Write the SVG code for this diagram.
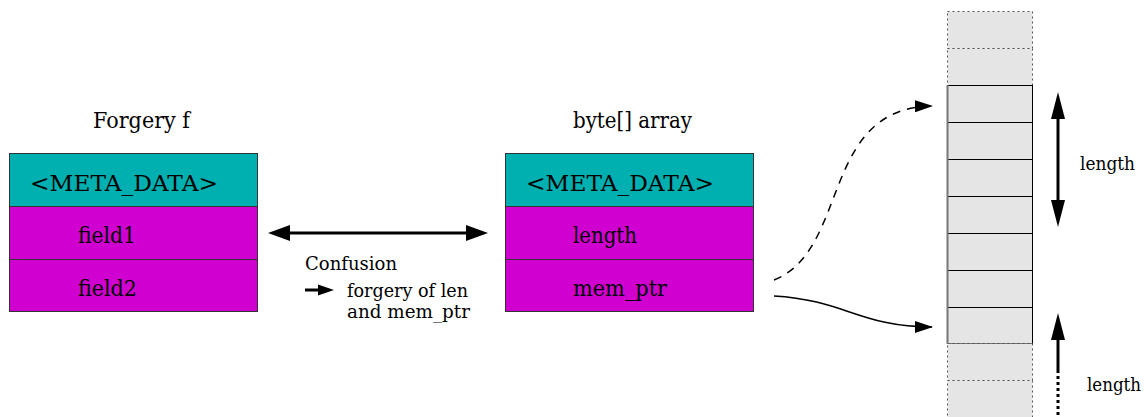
<svg xmlns="http://www.w3.org/2000/svg" width="1144" height="417" viewBox="0 0 1144 417">
<style>
.t{fill:#000;font-family:"DejaVu Serif","Liberation Serif",serif}
.big{font-size:22px}
.sm{font-size:18px}
.meta{fill:#00B0B0;stroke:#333;stroke-width:1}
.fld{fill:#D000D0;stroke:#333;stroke-width:1}
.cell{fill:#E5E5E5;stroke:#000;stroke-width:1}
.dcell{fill:#E5E5E5;stroke:#555;stroke-width:1;stroke-dasharray:2 3}
.ln{stroke:#000;fill:none}
</style>
<defs>
<marker id="ah" markerWidth="18" markerHeight="12" refX="17" refY="6" orient="auto" markerUnits="userSpaceOnUse">
<path d="M0,0 L18,6 L0,12 Z" fill="#000"/>
</marker>
</defs>
<rect width="1144" height="417" fill="#fff"/>
<g id="forgery">
<text class="t big" x="93" y="128" textLength="97" lengthAdjust="spacingAndGlyphs">Forgery f</text>
<rect class="meta" x="9.5" y="153.5" width="248" height="53"/>
<rect class="fld" x="9.5" y="206.5" width="248" height="53"/>
<rect class="fld" x="9.5" y="259.5" width="248" height="52"/>
<text class="t big" x="30" y="191" textLength="188" lengthAdjust="spacingAndGlyphs">&lt;META_DATA&gt;</text>
<text class="t big" x="78" y="243" textLength="58" lengthAdjust="spacingAndGlyphs">field1</text>
<text class="t big" x="78" y="296" textLength="59" lengthAdjust="spacingAndGlyphs">field2</text>
</g>

<g id="bytearray">
<text class="t big" x="573" y="128" textLength="119" lengthAdjust="spacingAndGlyphs">byte[] array</text>
<rect class="meta" x="505.5" y="153.5" width="248" height="53"/>
<rect class="fld" x="505.5" y="206.5" width="248" height="53"/>
<rect class="fld" x="505.5" y="259.5" width="248" height="52"/>
<text class="t big" x="526" y="191" textLength="188" lengthAdjust="spacingAndGlyphs">&lt;META_DATA&gt;</text>
<text class="t big" x="573" y="243" textLength="64" lengthAdjust="spacingAndGlyphs">length</text>
<text class="t big" x="573" y="296" textLength="94" lengthAdjust="spacingAndGlyphs">mem_ptr</text>
</g>

<g id="memory">
<rect class="dcell" x="947.5" y="11.5" width="85" height="37"/>
<rect class="dcell" x="947.5" y="48.5" width="85" height="37"/>
<rect class="cell" x="947.5" y="85.5" width="85" height="37"/>
<rect class="cell" x="947.5" y="122.5" width="85" height="37"/>
<rect class="cell" x="947.5" y="159.5" width="85" height="37"/>
<rect class="cell" x="947.5" y="196.5" width="85" height="37"/>
<rect class="cell" x="947.5" y="233.5" width="85" height="37"/>
<rect class="cell" x="947.5" y="270.5" width="85" height="37"/>
<rect class="cell" x="947.5" y="307.5" width="85" height="36"/>
<rect class="dcell" x="947.5" y="343.5" width="85" height="37"/>
<rect class="dcell" x="947.5" y="380.5" width="85" height="45"/>
<line x1="947.5" y1="85" x2="947.5" y2="344" stroke="#777" stroke-width="2"/>
</g>

<g id="confusion">
<text class="t sm" x="305" y="270" textLength="92" lengthAdjust="spacingAndGlyphs">Confusion</text>
<text class="t sm" x="347" y="297" textLength="121" lengthAdjust="spacingAndGlyphs">forgery of len</text>
<text class="t sm" x="347" y="318" textLength="123" lengthAdjust="spacingAndGlyphs">and mem_ptr</text>
</g>

<g id="length-labels">
<text class="t sm" x="1080" y="170" textLength="55" lengthAdjust="spacingAndGlyphs">length</text>
<text class="t sm" x="1087" y="391" textLength="54" lengthAdjust="spacingAndGlyphs">length</text>
</g>
<g id="connectors">
<line class="ln" x1="286" y1="233" x2="470" y2="233" stroke-width="3"/>
<polygon points="268,233 290,225 290,241" fill="#000"/>
<polygon points="488,233 466,225 466,241" fill="#000"/>
<line class="ln" x1="305" y1="290" x2="320" y2="290" stroke-width="3"/>
<polygon points="334,290 318,284.5 318,295.5" fill="#000"/>
<line class="ln" x1="1058" y1="115" x2="1058" y2="205" stroke-width="3"/>
<polygon points="1058,92 1051,119 1065,119" fill="#000"/>
<polygon points="1058,227 1051,200 1065,200" fill="#000"/>
<line class="ln" x1="1058" y1="335" x2="1058" y2="370" stroke-width="3"/>
<line class="ln" x1="1058" y1="370" x2="1058" y2="417" stroke-width="3" stroke-dasharray="3 3"/>
<polygon points="1058,313 1051,340 1065,340" fill="#000"/>
<path class="ln" d="M774,280 C850,250 820,108 932,106" stroke-width="1.5" stroke-dasharray="8 7" marker-end="url(#ah)"/>
<path class="ln" d="M774,296 C845,300 860,327 932,327" stroke-width="1.5" marker-end="url(#ah)"/>
</g>
</svg>
